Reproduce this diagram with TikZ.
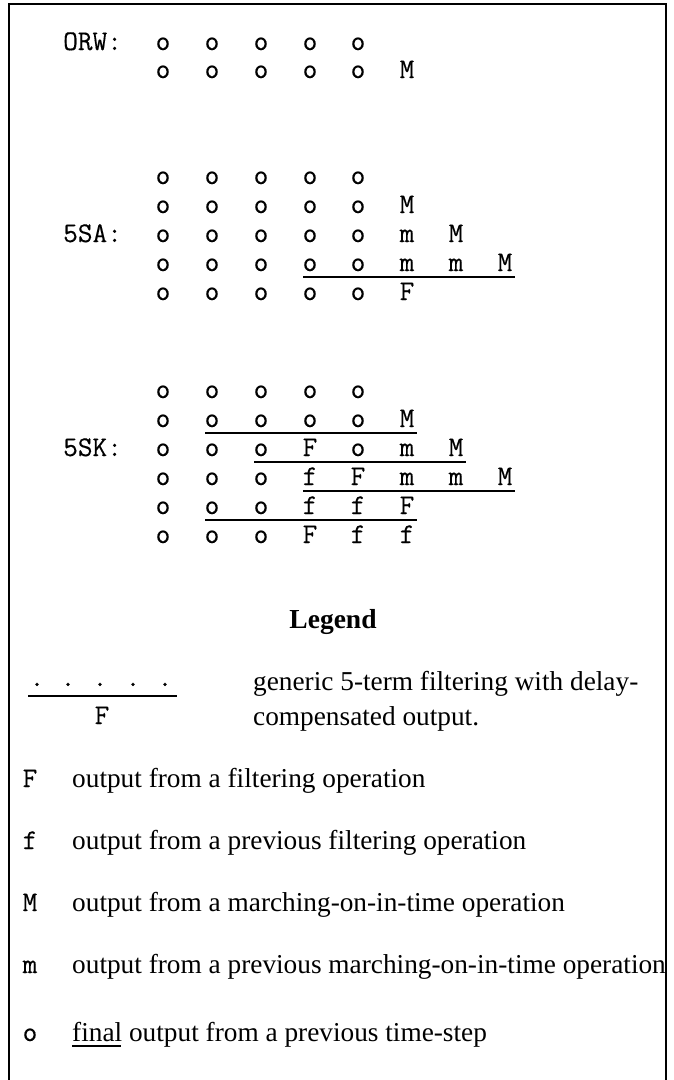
\documentclass[tikz,border=0pt]{standalone}
\usepackage{fontspec}
\setmainfont{Liberation Serif}
\setmonofont[FakeBold=0.3]{Latin Modern Mono}
\begin{document}
\begin{tikzpicture}[x=1pt,y=-1pt,
  cell/.style={font=\fontsize{28.5}{28.5}\ttfamily, inner sep=0pt, anchor=base},
  lbl/.style={font=\fontsize{28.5}{28.5}\ttfamily, inner sep=0pt, anchor=base west},
  txt/.style={font=\fontsize{27.3}{32}\selectfont, inner sep=0pt, anchor=base west},
  uline/.style={line width=2.4pt},
  frame/.style={line width=2.6pt}]
\useasboundingbox (0,0) rectangle (674,1080);
% frame
\draw[frame] (9,1080) -- (9,4) -- (666,4) -- (666,1080);
% ---- ORW
\node[lbl] (orwl) at (63,50) {ORW:};
\foreach \c/\x in {1/163,2/212,3/261,4/310,5/358}{
  \node[cell] (orw-1-\c) at (\x,50) {o};
  \node[cell] (orw-2-\c) at (\x,78) {o};
}
\node[cell] (orw-2-6) at (407,78) {M};
% ---- 5SA
\node[lbl] (sal) at (63,242) {5SA:};
\foreach \r/\y in {1/184,2/213,3/242,4/271,5/300}{
  \foreach \c/\x in {1/163,2/212,3/261,4/310,5/358}{
    \node[cell] (sa-\r-\c) at (\x,\y) {o};
  }
}
\node[cell] (sa-2-6) at (407,213) {M};
\node[cell] (sa-3-6) at (407,242) {m};
\node[cell] (sa-3-7) at (456,242) {M};
\node[cell] (sa-4-6) at (407,271) {m};
\node[cell] (sa-4-7) at (456,271) {m};
\node[cell] (sa-4-8) at (505,271) {M};
\node[cell] (sa-5-6) at (407,300) {F};
\draw[uline] ([xshift=-7pt,yshift=-6pt]sa-4-4.base) -- ([xshift=10pt,yshift=-6pt]sa-4-8.base);
% ---- 5SK
\node[lbl] (skl) at (63,456) {5SK:};
\foreach \r/\y/\la/\lb/\lc/\ld/\le in {
  1/398/o/o/o/o/o,
  2/427/o/o/o/o/o,
  3/456/o/o/o/F/o,
  4/485/o/o/o/f/F,
  5/514/o/o/o/f/f,
  6/543/o/o/o/F/f}{
  \node[cell] (sk-\r-1) at (163,\y) {\la};
  \node[cell] (sk-\r-2) at (212,\y) {\lb};
  \node[cell] (sk-\r-3) at (261,\y) {\lc};
  \node[cell] (sk-\r-4) at (310,\y) {\ld};
  \node[cell] (sk-\r-5) at (358,\y) {\le};
}
\node[cell] (sk-2-6) at (407,427) {M};
\node[cell] (sk-3-6) at (407,456) {m};
\node[cell] (sk-3-7) at (456,456) {M};
\node[cell] (sk-4-6) at (407,485) {m};
\node[cell] (sk-4-7) at (456,485) {m};
\node[cell] (sk-4-8) at (505,485) {M};
\node[cell] (sk-5-6) at (407,514) {F};
\node[cell] (sk-6-6) at (407,543) {f};
\draw[uline] ([xshift=-7pt,yshift=-6pt]sk-2-2.base) -- ([xshift=10pt,yshift=-6pt]sk-2-6.base);
\draw[uline] ([xshift=-7pt,yshift=-6pt]sk-3-3.base) -- ([xshift=10pt,yshift=-6pt]sk-3-7.base);
\draw[uline] ([xshift=-7pt,yshift=-6pt]sk-4-4.base) -- ([xshift=10pt,yshift=-6pt]sk-4-8.base);
\draw[uline] ([xshift=-7pt,yshift=-6pt]sk-5-2.base) -- ([xshift=10pt,yshift=-6pt]sk-5-6.base);
% ---- Legend
\node[font=\fontsize{27.5}{32}\selectfont\bfseries, inner sep=0pt, anchor=base] (leg) at (333,628) {Legend};
\foreach \i/\x in {1/37,2/68,3/100,4/133,5/165}{
  \node[cell] (dot\i) at (\x,686) {.};
}
\coordinate (sl) at (28,696);
\coordinate (sr) at (177,696);
\draw[uline] (sl) -- (sr);
\node[cell] (sF) at (102,724) {F};
\node[txt] (g1) at (253,690) {generic 5-term filtering with delay-};
\node[txt] (g2) at (253,725) {compensated output.};
\node[cell] (kF) at (30,787) {F};
\node[txt] (tF) at (72,787) {output from a filtering operation};
\node[cell] (kf) at (30,849) {f};
\node[txt] (tf) at (72,849) {output from a previous filtering operation};
\node[cell] (kM) at (30,911) {M};
\node[txt] (tM) at (72,911) {output from a marching-on-in-time operation};
\node[cell] (km) at (30,973) {m};
\node[txt] (tm) at (72,973) {output from a previous marching-on-in-time operation};
\node[cell] (ko) at (30,1041) {o};
\node[txt] (to) at (72,1041) {final output from a previous time-step};
\draw[line width=1.6pt] ([yshift=-5pt]to.base west) -- ++(49,0);
\end{tikzpicture}
\end{document}
